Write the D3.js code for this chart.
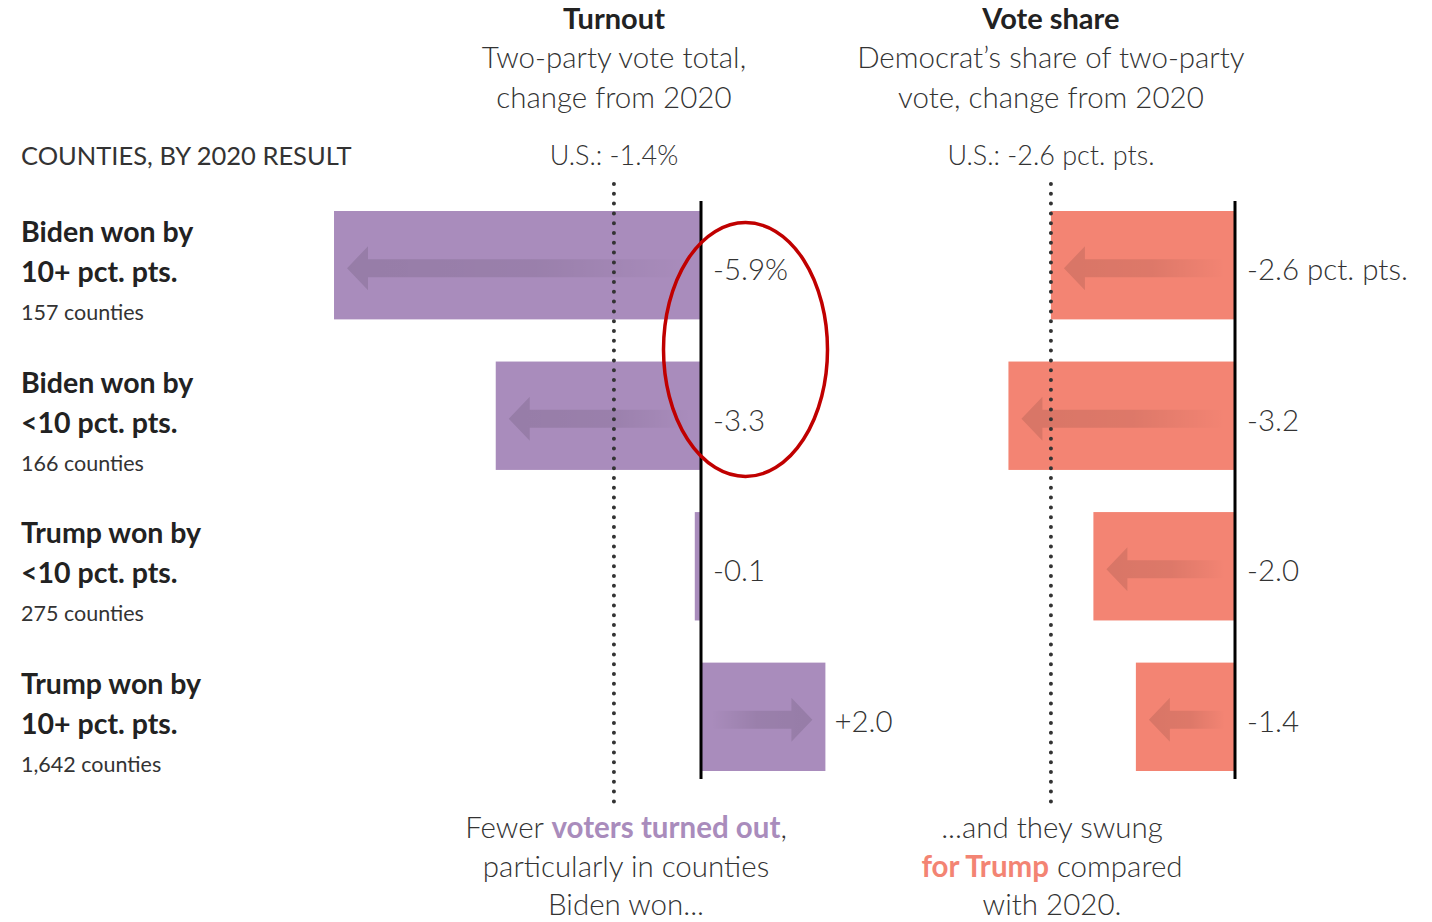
<!DOCTYPE html>
<html>
<head>
<meta charset="utf-8">
<script src="https://cdn.jsdelivr.net/npm/d3@7"></script>
<style>
  body { margin: 0; background: #fff; }
  svg text { font-family: Lato, "Open Sans", sans-serif; fill: #333; }
  .bold { font-weight: 700; fill: #222; }
</style>
</head>
<body>
<div id="chart"></div>
<script>
// data
var groupTop = ['Biden won by', 'Biden won by', 'Trump won by', 'Trump won by']
var groupBottom = ['10+ pct. pts.', '<10 pct. pts.', '<10 pct. pts.', '10+ pct. pts.']
var counties = ['157 counties', '166 counties', '275 counties', '1,642 counties']
var turnout = [-5.9, -3.3, -0.1, 2.0]
var voteShare = [-2.6, -3.2, -2.0, -1.4]
var usTurnout = -1.4
var usShare = -2.6

var purple = '#a98cbc'
var salmon = '#f38473'

var W = 1432, H = 922

var svg = d3.select('#chart').append('svg')
  .attr('width', W).attr('height', H)

var defs = svg.append('defs')
function fade(id, x1, x2){
  var g = defs.append('linearGradient').attr('id', id)
    .attr('x1', x1).attr('x2', x2).attr('y1', 0).attr('y2', 0)
  g.append('stop').attr('offset', 0).attr('stop-color', '#000').attr('stop-opacity', 0.11)
  g.append('stop').attr('offset', 0.55).attr('stop-color', '#000').attr('stop-opacity', 0.09)
  g.append('stop').attr('offset', 1).attr('stop-color', '#000').attr('stop-opacity', 0)
}
fade('fade-left', 0, 1)
fade('fade-right', 1, 0)

var idx = d3.range(turnout.length)

var y = d3.scaleBand().domain(idx).range([211, 771]).paddingInner(0.28).paddingOuter(0)
var xT = d3.scaleLinear().domain([-6, 2.2]).range([701 - 6 * 62.2, 701 + 2.2 * 62.2])
var xV = d3.scaleLinear().domain([-3.5, 0]).range([1235 - 3.5 * 70.8, 1235])

// header
svg.append('text').attr('x', 21).attr('y', 165)
  .style('font-size', '25.5px').text('COUNTIES, BY 2020 RESULT')

function header(x, title, lines, us){
  svg.append('text').attr('class', 'bold').attr('x', x).attr('y', 29)
    .attr('text-anchor', 'middle').style('font-size', '29px').text(title)
  lines.forEach(function(t, i){
    svg.append('text').attr('x', x).attr('y', 68 + i * 40)
      .attr('text-anchor', 'middle').style('font-size', '29.5px').style('font-weight', 300).text(t)
  })
  svg.append('text').attr('x', x).attr('y', 165)
    .attr('text-anchor', 'middle').style('font-size', '27px').style('font-weight', 300).text(us)
}
header(xT(usTurnout), 'Turnout', ['Two-party vote total,', 'change from 2020'], 'U.S.: -1.4%')
header(xV(usShare), 'Vote share', ['Democrat\u2019s share of two-party', 'vote, change from 2020'], 'U.S.: -2.6 pct. pts.')

// row labels
idx.forEach(function(i){
  var c = y(i) + y.bandwidth() / 2 + 7
  svg.append('text').attr('class', 'bold').attr('x', 21).attr('y', c - 30)
    .style('font-size', '28.5px').text(groupTop[i])
  svg.append('text').attr('class', 'bold').attr('x', 21).attr('y', c + 10)
    .style('font-size', '28.5px').text(groupBottom[i])
  svg.append('text').attr('x', 21).attr('y', c + 48)
    .style('font-size', '21.5px').text(counties[i])
})

// bars + arrows
function arrow(x0, x1, cy){
  // x0 = tail, x1 = tip
  var dir = x1 < x0 ? -1 : 1
  var hl = 21, sh = 9, hh = 22
  var xb = x1 - dir * hl
  return 'M' + x0 + ',' + (cy - sh) + 'L' + xb + ',' + (cy - sh) + 'L' + xb + ',' + (cy - hh) +
    'L' + x1 + ',' + cy + 'L' + xb + ',' + (cy + hh) + 'L' + xb + ',' + (cy + sh) +
    'L' + x0 + ',' + (cy + sh) + 'Z'
}

function panel(vals, x, color, fmt){
  var g = svg.append('g')
  g.selectAll('rect').data(vals).join('rect')
    .attr('x', function(d){ return Math.min(x(d), x(0)) })
    .attr('width', function(d){ return Math.abs(x(d) - x(0)) })
    .attr('y', function(d, i){ return y(i) })
    .attr('height', y.bandwidth())
    .attr('fill', color)

  vals.forEach(function(d, i){
    var len = Math.abs(x(d) - x(0))
    if (len < 40) return
    var dir = d < 0 ? -1 : 1
    var tip = x(d) - dir * 13
    var tail = x(0) + dir * 10
    g.append('path')
      .attr('d', arrow(tail, tip, y(i) + y.bandwidth() / 2 + 3))
      .attr('fill', d < 0 ? 'url(#fade-left)' : 'url(#fade-right)')
  })

  g.selectAll('text.val').data(vals).join('text').attr('class', 'val')
    .attr('x', function(d){ return Math.max(x(d), x(0)) + (d > 0 ? 9 : 12) })
    .attr('y', function(d, i){ return y(i) + y.bandwidth() / 2 + 15 })
    .style('font-size', '29.5px').style('font-weight', 300)
    .text(fmt)
}

panel(turnout, xT, purple, function(d, i){
  return (d > 0 ? '+' : '') + d.toFixed(1) + (i == 0 ? '%' : '')
})
panel(voteShare, xV, salmon, function(d, i){
  return (d > 0 ? '+' : '') + d.toFixed(1) + (i == 0 ? ' pct. pts.' : '')
})

// U.S. dotted lines
;[xT(usTurnout), xV(usShare)].forEach(function(x){
  svg.append('line').attr('x1', x).attr('x2', x).attr('y1', 184).attr('y2', 808)
    .attr('stroke', '#333').attr('stroke-width', 4).attr('stroke-linecap', 'round')
    .attr('stroke-dasharray', '0,9.8')
})

// zero lines
;[xT(0), xV(0)].forEach(function(x){
  svg.append('line').attr('x1', x).attr('x2', x).attr('y1', 201).attr('y2', 779)
    .attr('stroke', '#000').attr('stroke-width', 3)
})

// footnotes
function note(x, lines){
  lines.forEach(function(parts, i){
    var t = svg.append('text').attr('x', x).attr('y', 838 + i * 38.5)
      .attr('text-anchor', 'middle').style('font-size', '29.5px').style('font-weight', 300)
    parts.forEach(function(p){
      var s = t.append('tspan').text(p[0])
      if (p[1]) s.style('fill', p[1]).style('font-weight', 700)
    })
  })
}
note(626, [[['Fewer '], ['voters turned out', purple], [',']],
  [['particularly in counties']], [['Biden won...']]])
note(1052, [[['...and they swung']],
  [['for Trump', salmon], [' compared']], [['with 2020.']]])

// red ring
svg.append('ellipse').attr('cx', 745.5).attr('cy', 349.5).attr('rx', 82).attr('ry', 127)
  .attr('fill', 'none').attr('stroke', '#c00000').attr('stroke-width', 3.5)
</script>
</body>
</html>
